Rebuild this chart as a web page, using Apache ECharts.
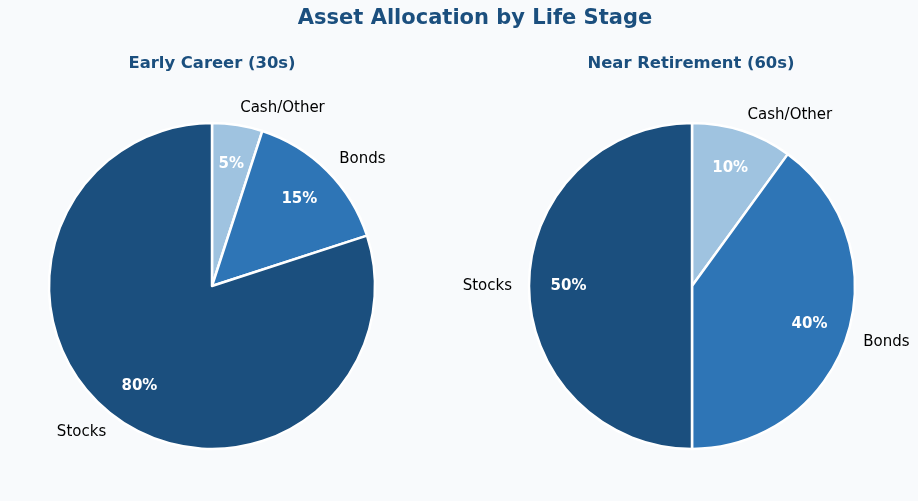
<!DOCTYPE html>
<html>
<head>
<meta charset="utf-8">
<script src="https://cdn.jsdelivr.net/npm/echarts@6/dist/echarts.min.js"></script>
<style>
  html, body { margin: 0; padding: 0; background: #f8fafc; }
  #chart { width: 918px; height: 501px; }
</style>
</head>
<body>
<div id="chart"></div>
<script>
const CATEGORIES = ["Cash/Other", "Bonds", "Stocks"];
const EARLY = [5, 15, 80];
const NEAR = [10, 40, 50];
const COLORS = ["#9fc3e0", "#2e75b6", "#1b4f7e"];

const FONT = "'DejaVu Sans', sans-serif";
const R = 163;

function pieSeries(values, cx) {
  const data = CATEGORIES.map((name, i) => ({ name, value: values[i] }));
  return [
    {
      type: "pie",
      center: [cx, 286],
      radius: [0, R],
      startAngle: 90,
      clockwise: true,
      silent: true,
      animation: false,
      avoidLabelOverlap: false,
      itemStyle: { color: p => COLORS[p.dataIndex], borderColor: "#fff", borderWidth: 2.5 },
      label: {
        show: true, position: "outside", formatter: "{b}",
        fontFamily: FONT, fontSize: 15, color: "#000", distanceToLabelLine: 0
      },
      labelLine: { show: false, length: 17, length2: 0 },
      data
    },
    {
      // transparent ring only to place the percentage labels
      type: "pie",
      center: [cx, 286],
      radius: [78, R],
      startAngle: 90,
      clockwise: true,
      silent: true,
      animation: false,
      itemStyle: { color: "transparent", borderWidth: 0 },
      label: {
        show: true, position: "inside", formatter: "{c}%",
        fontFamily: FONT, fontSize: 15, fontWeight: "bold", color: "#fff"
      },
      labelLine: { show: false },
      data
    }
  ];
}

const chart = echarts.init(document.getElementById("chart"));
chart.setOption({
  backgroundColor: "#f8fafc",
  title: [
    { text: "Asset Allocation by Life Stage", left: 470, top: 3, textAlign: "center",
      textStyle: { fontFamily: FONT, fontSize: 21, fontWeight: "bold", color: "#1b4f7e" } },
    { text: "Early Career (30s)", left: 207, top: 51, textAlign: "center",
      textStyle: { fontFamily: FONT, fontSize: 16.4, fontWeight: "bold", color: "#1b4f7e" } },
    { text: "Near Retirement (60s)", left: 686, top: 51, textAlign: "center",
      textStyle: { fontFamily: FONT, fontSize: 16.4, fontWeight: "bold", color: "#1b4f7e" } }
  ],
  series: [...pieSeries(EARLY, 212), ...pieSeries(NEAR, 692)]
});
</script>
</body>
</html>
